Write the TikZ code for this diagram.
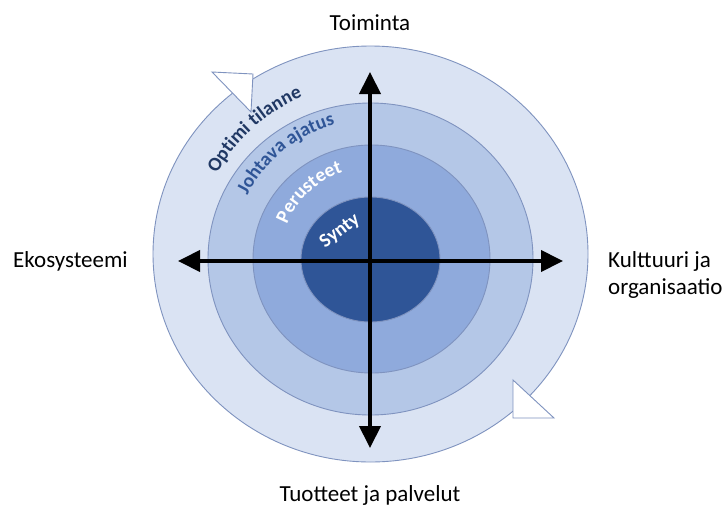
\documentclass[tikz,border=0pt]{standalone}
\usepackage{fontspec}
\setmainfont{Carlito}
\usetikzlibrary{arrows.meta,decorations.text}

\definecolor{ringA}{HTML}{DAE3F3}
\definecolor{ringB}{HTML}{B4C7E7}
\definecolor{ringC}{HTML}{8FAADC}
\definecolor{core}{HTML}{2F5597}
\definecolor{ringline}{HTML}{7F93BF}
\definecolor{navy}{HTML}{203864}
\definecolor{midblue}{HTML}{2F5597}

\newcommand{\arclabelfont}{\fontsize{19.5}{22}\selectfont\bfseries}

\tikzset{
  ring/.style={draw=ringline, line width=0.9pt},
  axis/.style={line width=4pt, {Triangle[length=22pt,width=21pt]}-{Triangle[length=22pt,width=21pt]}},
  caption/.style={font=\fontsize{23}{27}\selectfont, text=black, inner sep=0pt},
  marker/.style={draw=ringline, fill=white, line width=0.9pt, line join=miter},
  arclabel/.style 2 args={decorate, decoration={text along path,
      text align=center, text color=#1, text={|\arclabelfont|#2}}},
}

\begin{document}
\begin{tikzpicture}[x=1pt,y=1pt]
\useasboundingbox (0,0) rectangle (727,-506);
\fill[white] (0,0) rectangle (727,-506);

% centre of the rings
\coordinate (c) at (370.5,-258);

% concentric rings
\draw[ring, fill=ringA] (370.5,-254) ellipse [x radius=217.5, y radius=208];
\draw[ring, fill=ringB] (370.5,-259) ellipse [x radius=162.5, y radius=156];
\draw[ring, fill=ringC] (371.5,-259) ellipse [x radius=118.5, y radius=114];
\draw[ring, fill=core]  (370.5,-259.5) ellipse [x radius=69.5, y radius=62.5];

% open arrowheads of the circulating ring
\draw[marker] (212,-72) -- (253,-74) -- (251,-112) -- cycle;
\draw[marker] (513,-380) -- (513,-418) -- (554,-418) -- cycle;

% curved ring labels
\path[arclabel={navy}{Optimi tilanne}]
  (c) ++(184:175) arc[start angle=184, end angle=80, radius=175];
\path[arclabel={midblue}{Johtava ajatus}]
  (c) ++(180:138) arc[start angle=180, end angle=78, radius=138];
\path[arclabel={white}{Perusteet}]
  (c) ++(182:90) arc[start angle=182, end angle=84, radius=90];
\node[font=\arclabelfont, text=white, rotate=37, inner sep=0pt] (synty) at (340,-231) {Synty};

% axis end points
\coordinate (top)    at (370,-72);
\coordinate (bottom) at (370,-448);
\coordinate (left)   at (178,-261);
\coordinate (right)  at (563,-261);

% axes
\draw[axis] (bottom) -- (top);
\draw[axis] (left) -- (right);

% captions
\node[caption] (toiminta) at (370,-23) {Toiminta};
\node[caption, anchor=west] (eko) at (13,-261) {Ekosysteemi};
\node[caption, anchor=west, align=left] (kult) at (608,-275) {Kulttuuri ja\\organisaatio};
\node[caption] (tuotteet) at (370,-495) {Tuotteet ja palvelut};
\end{tikzpicture}
\end{document}
